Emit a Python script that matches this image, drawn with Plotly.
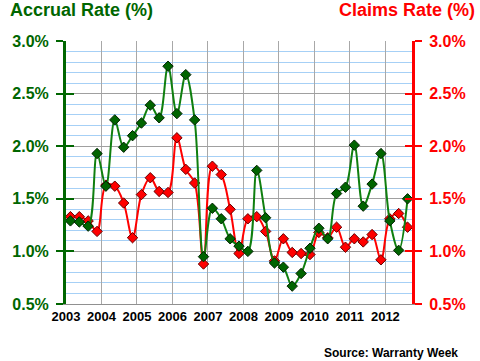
import plotly.graph_objects as go

# ---- data (quarterly, 2003 Q1 .. 2012 Q3) ----
years = [2003]*4 + [2004]*4 + [2005]*4 + [2006]*4 + [2007]*4 + [2008]*4 + [2009]*4 + [2010]*4 + [2011]*4 + [2012]*3
quarters = [1, 2, 3, 4]*9 + [1, 2, 3]
accrual_rate = [1.29, 1.28, 1.24, 1.93, 1.62, 2.25, 1.99, 2.10, 2.22, 2.39, 2.27, 2.76,
                2.31, 2.68, 2.25, 0.95, 1.41, 1.31, 1.12, 1.05, 1.00, 1.77, 1.32, 0.89,
                0.85, 0.67, 0.79, 1.03, 1.22, 1.12, 1.55, 1.61, 2.01, 1.43, 1.64, 1.93,
                1.29, 1.01, 1.50]
claims_rate = [1.33, 1.33, 1.29, 1.19, 1.63, 1.62, 1.46, 1.13, 1.54, 1.70, 1.57, 1.56,
               2.08, 1.78, 1.65, 0.88, 1.81, 1.73, 1.40, 0.98, 1.31, 1.33, 1.19, 0.91,
               1.12, 0.99, 0.98, 0.97, 1.18, 1.13, 1.23, 1.04, 1.12, 1.09, 1.16, 0.92,
               1.31, 1.36, 1.23]
year_ticks = list(range(2003, 2013))
y_ticks = [0.5, 1.0, 1.5, 2.0, 2.5, 3.0]
y_tick_labels = ["0.5%", "1.0%", "1.5%", "2.0%", "2.5%", "3.0%"]

x = [y + (q - 0.5) / 4 for y, q in zip(years, quarters)]

# ---- geometry ----
W, H = 480, 361
L, R, T, B = 60, 68, 41, 57
PW, PH = W - L - R, H - T - B

GREEN_AX = "#006600"
RED = "#ff0000"
FONT = "Arial, Liberation Sans, sans-serif"

fig = go.Figure()
fig.add_trace(go.Scatter(x=[], y=[], yaxis="y", showlegend=False, hoverinfo="skip"))
fig.add_trace(go.Scatter(
    x=x, y=claims_rate, yaxis="y2", mode="lines+markers", name="Claims Rate",
    line=dict(color=RED, width=2, shape="spline", smoothing=1.0),
    marker=dict(symbol="diamond", size=8, color=RED, line=dict(color="#660000", width=1)),
    showlegend=False))
fig.add_trace(go.Scatter(
    x=x, y=accrual_rate, yaxis="y3", mode="lines+markers", name="Accrual Rate",
    line=dict(color="#0f7f0f", width=2, shape="spline", smoothing=1.0),
    marker=dict(symbol="diamond", size=8, color="#006400", line=dict(color="#002200", width=1)),
    showlegend=False))
fig.add_trace(go.Scatter(x=[], y=[], yaxis="y4", showlegend=False, hoverinfo="skip"))

yr = [0.5, 3.0]
common = dict(range=yr, tickvals=y_ticks, ticktext=y_tick_labels, fixedrange=True, zeroline=False)

fig.update_layout(
    width=W, height=H,
    margin=dict(l=L, r=R, t=T, b=B),
    paper_bgcolor="white", plot_bgcolor="white",
    showlegend=False,
    xaxis=dict(range=[2003, 2012.75], tickvals=year_ticks, ticktext=[str(v) for v in year_ticks],
               showgrid=True, gridcolor="#a8a8a8", gridwidth=1,
               showline=True, linecolor="#909090", linewidth=1,
               ticks="", tickfont=dict(family=FONT, size=13, color="black", weight="bold"),
               zeroline=False, fixedrange=True),
    yaxis=dict(**common, side="left", showgrid=True, gridcolor="#a0a0a0", gridwidth=1,
               minor=dict(dtick=0.1, showgrid=True, gridcolor="#a6d0f6", gridwidth=1, ticks=""),
               showline=True, linecolor=GREEN_AX, linewidth=3,
               ticks="outside", ticklen=7, tickwidth=2, tickcolor=GREEN_AX,
               ticklabelstandoff=4,
               tickfont=dict(family=FONT, size=16, color=GREEN_AX, weight="bold")),
    yaxis2=dict(**common, side="right", overlaying="y", showgrid=False,
                showline=True, linecolor=RED, linewidth=3,
                ticks="outside", ticklen=7, tickwidth=2, tickcolor=RED,
                ticklabelstandoff=4,
                tickfont=dict(family=FONT, size=16, color=RED, weight="bold")),
    yaxis3=dict(**common, side="left", overlaying="y", showgrid=False, showline=False,
                ticks="inside", ticklen=8, tickwidth=2, tickcolor=GREEN_AX, showticklabels=False),
    yaxis4=dict(**common, side="right", overlaying="y", showgrid=False, showline=False,
                ticks="inside", ticklen=7, tickwidth=2, tickcolor=RED, showticklabels=False),
)

def px_x(px):
    return (px - L) / PW

def px_y(py):
    return (H - B - py) / PH

fig.add_annotation(text="Accrual Rate (%)", xref="paper", yref="paper", x=px_x(1), y=px_y(10),
                   xanchor="left", yanchor="middle", showarrow=False,
                   font=dict(family=FONT, size=18, color=GREEN_AX, weight="bold"))
fig.add_annotation(text="Claims Rate (%)", xref="paper", yref="paper", x=px_x(478), y=px_y(10),
                   xanchor="right", yanchor="middle", showarrow=False,
                   font=dict(family=FONT, size=18, color=RED, weight="bold"))
fig.add_annotation(text="Source: Warranty Week", xref="paper", yref="paper", x=px_x(461), y=px_y(353),
                   xanchor="right", yanchor="middle", showarrow=False,
                   font=dict(family=FONT, size=12, color="black", weight="bold"))

fig.write_html("out.html", config={"displayModeBar": False},
               post_script="document.body.style.margin='0';document.body.style.padding='0';")
